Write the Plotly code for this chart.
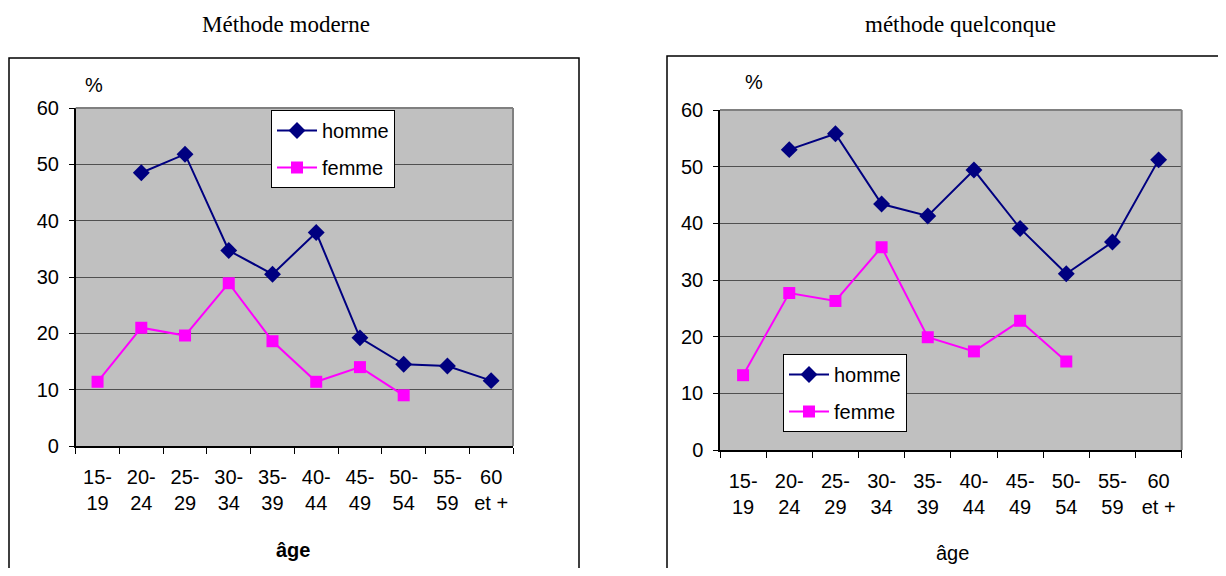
import plotly.graph_objects as go

PAGE_W, PAGE_H = 1226, 576
OFF = 8  # default body margin of the html page
W, H = PAGE_W - 2 * OFF, PAGE_H - 2 * OFF

categories = ["15-19", "20-24", "25-29", "30-34", "35-39", "40-44", "45-49", "50-54", "55-59", "60 et +"]
tick_labels = ["15-<br>19", "20-<br>24", "25-<br>29", "30-<br>34", "35-<br>39", "40-<br>44",
               "45-<br>49", "50-<br>54", "55-<br>59", "60<br>et +"]

moderne_homme = [None, 48.5, 51.8, 34.7, 30.5, 37.9, 19.2, 14.5, 14.2, 11.6]
moderne_femme = [11.4, 21.0, 19.6, 28.9, 18.6, 11.4, 14.0, 9.0, None, None]
quelconque_homme = [None, 53.0, 55.8, 43.4, 41.3, 49.4, 39.1, 31.1, 36.7, 51.2]
quelconque_femme = [13.2, 27.7, 26.3, 35.8, 19.9, 17.4, 22.8, 15.6, None, None]

y_ticks = [0, 10, 20, 30, 40, 50, 60]

NAVY = "#000080"
MAGENTA = "#FF00FF"
FONT = "Liberation Sans, Arial, sans-serif"
SERIF = "Liberation Serif, Times New Roman, serif"


def px(x):
    return (x - OFF) / W


def py(y):
    return 1 - (y - OFF) / H


fig = go.Figure()

for xa, ya, leg, h, f in [("x", "y", "legend", moderne_homme, moderne_femme),
                          ("x2", "y2", "legend2", quelconque_homme, quelconque_femme)]:
    fig.add_trace(go.Scatter(x=categories, y=h, name="homme", mode="lines+markers",
                             line=dict(color=NAVY, width=2),
                             marker=dict(symbol="diamond", size=13, color=NAVY),
                             xaxis=xa, yaxis=ya, legend=leg, legendgroup="h" + xa))
    fig.add_trace(go.Scatter(x=categories, y=f, name="femme", mode="lines+markers",
                             line=dict(color=MAGENTA, width=2),
                             marker=dict(symbol="square", size=12, color=MAGENTA),
                             xaxis=xa, yaxis=ya, legend=leg, legendgroup="f" + xa))

# plot area positions (page pixels)
areas = {
    "1": dict(x0=75.7, x1=513, y0=108, y1=446),
    "2": dict(x0=720, x1=1181.7, y0=110, y1=450),
}

xcommon = dict(type="category", categoryorder="array", categoryarray=categories,
               tickmode="array", tickvals=categories, ticktext=tick_labels,
               tickson="boundaries", ticks="outside", ticklen=6, tickcolor="black",
               showline=True, linecolor="black", linewidth=1.5, showgrid=False,
               tickfont=dict(family=FONT, size=20, color="black"), ticklabelstandoff=12,
               range=[-0.5, 9.5], fixedrange=True, automargin=False)
ycommon = dict(range=[0, 60], tickvals=y_ticks, ticks="outside", ticklen=5, tickcolor="black",
               showline=True, linecolor="black", linewidth=1.5, showgrid=True,
               gridcolor="#505050", gridwidth=1.2, zeroline=False,
               tickfont=dict(family=FONT, size=20, color="black"), ticklabelstandoff=6,
               fixedrange=True, automargin=False)

a1, a2 = areas["1"], areas["2"]
fig.update_layout(
    xaxis=dict(domain=[px(a1["x0"]), px(a1["x1"])], anchor="y", **xcommon),
    yaxis=dict(domain=[py(a1["y1"]), py(a1["y0"])], anchor="x", **ycommon),
    xaxis2=dict(domain=[px(a2["x0"]), px(a2["x1"])], anchor="y2", **xcommon),
    yaxis2=dict(domain=[py(a2["y1"]), py(a2["y0"])], anchor="x2", **ycommon),
)

legcommon = dict(bgcolor="white", bordercolor="black", borderwidth=1,
                 font=dict(family=FONT, size=20, color="black"),
                 xanchor="left", yanchor="top", tracegroupgap=8, itemwidth=40,
                 entrywidth=78, entrywidthmode="pixels")
fig.update_layout(
    legend=dict(x=px(271), y=py(110), **legcommon),
    legend2=dict(x=px(783), y=py(354), **legcommon),
)

shapes = []
for a in areas.values():
    # plot-area border (top and right edges, grey)
    shapes.append(dict(type="line", xref="paper", yref="paper", x0=px(a["x0"]), x1=px(a["x1"]),
                       y0=py(a["y0"]), y1=py(a["y0"]), line=dict(color="#808080", width=2)))
    shapes.append(dict(type="line", xref="paper", yref="paper", x0=px(a["x1"]), x1=px(a["x1"]),
                       y0=py(a["y0"]), y1=py(a["y1"]), line=dict(color="#808080", width=2)))
# outer chart boxes
shapes.append(dict(type="rect", xref="paper", yref="paper", x0=px(9), x1=px(579),
                   y0=py(590), y1=py(58), line=dict(color="black", width=1.5)))
shapes.append(dict(type="rect", xref="paper", yref="paper", x0=px(667), x1=px(1240),
                   y0=py(590), y1=py(56), line=dict(color="black", width=1.5)))

annotations = [
    dict(text="Méthode moderne", x=px(286), y=py(24), font=dict(family=SERIF, size=23, color="black")),
    dict(text="méthode quelconque", x=px(960), y=py(24), font=dict(family=SERIF, size=23, color="black")),
    dict(text="%", x=px(94), y=py(85), font=dict(family=FONT, size=20, color="black")),
    dict(text="%", x=px(754), y=py(82), font=dict(family=FONT, size=20, color="black")),
    dict(text="<b>âge</b>", x=px(293), y=py(550), font=dict(family=FONT, size=20, color="black")),
    dict(text="âge", x=px(952), y=py(553), font=dict(family=FONT, size=20, color="black")),
]
for an in annotations:
    an.update(xref="paper", yref="paper", showarrow=False, xanchor="center", yanchor="middle")

fig.update_layout(
    width=W, height=H, margin=dict(l=0, r=0, t=0, b=0, pad=0, autoexpand=False),
    paper_bgcolor="white", plot_bgcolor="#C0C0C0",
    shapes=shapes, annotations=annotations, showlegend=True,
)

fig.write_html("out.html")
